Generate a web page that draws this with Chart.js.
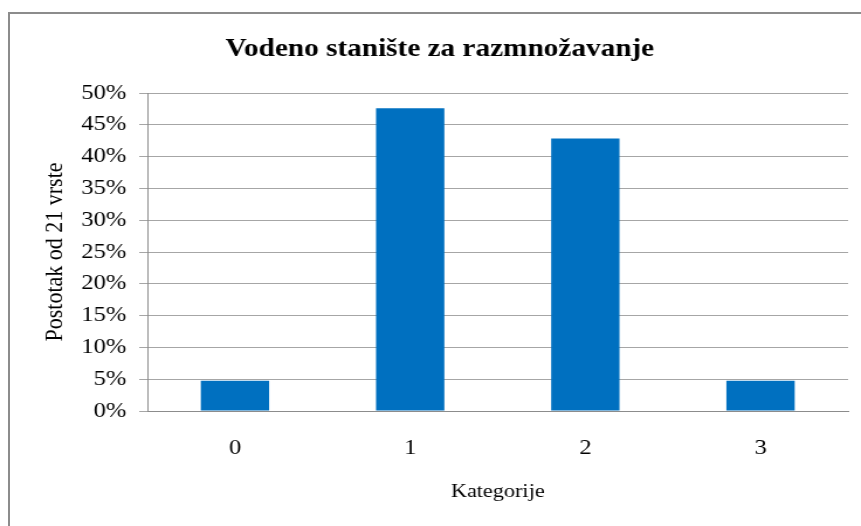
<!DOCTYPE html>
<html>
<head>
<meta charset="utf-8">
<script src="https://cdn.jsdelivr.net/npm/chart.js@4"></script>
<style>
  html, body { margin: 0; padding: 0; background: #fff; overflow: hidden; }
  #frame { position: absolute; left: 8px; top: 12px; width: 900px; height: 600px; border: 2px solid #8c8c8c; box-sizing: border-box; }
  /* the original picture has its text a little wide, so the canvas is drawn narrower and stretched */
  #chart { position: absolute; left: 0; top: 0; transform: scaleX(1.1698); transform-origin: 0 0; }
</style>
</head>
<body>
<div id="frame"></div>
<canvas id="chart" width="736" height="526"></canvas>
<script>
const categories = ['0', '1', '2', '3']
const percentValues = [4.76, 47.62, 42.86, 4.76]
const yTicks = [0, 5, 10, 15, 20, 25, 30, 35, 40, 45, 50]

const serif = '"Liberation Serif", "Times New Roman", serif'

new Chart(document.getElementById('chart'), {
  type: 'bar',
  data: {
    labels: categories,
    datasets: [{
      data: percentValues,
      backgroundColor: '#0070c0',
      categoryPercentage: 0.39,
      barPercentage: 1
    }]
  },
  options: {
    responsive: false,
    animation: false,
    devicePixelRatio: 1,
    layout: { padding: { left: 27, right: 11, top: 0, bottom: 23 } },
    plugins: {
      legend: { display: false },
      tooltip: { enabled: false },
      title: {
        display: true,
        text: 'Vodeno stanište za razmnožavanje',
        color: '#000',
        font: { family: serif, size: 25, weight: 'bold' },
        padding: { top: 35, bottom: 28 }
      }
    },
    scales: {
      x: {
        grid: { display: false },
        border: { display: true, color: '#8c8c8c', width: 1 },
        ticks: { color: '#000', font: { family: serif, size: 21 }, padding: 17 },
        title: {
          display: true,
          text: 'Kategorije',
          color: '#000',
          font: { family: serif, size: 19 },
          padding: { top: 2, bottom: 0 }
        }
      },
      y: {
        min: 0,
        max: 50,
        afterBuildTicks: (scale) => { scale.ticks = yTicks.map(v => ({ value: v })) },
        afterFit: (scale) => { scale.width = 99 },
        grid: { color: '#a6a6a6', tickLength: 7, drawTicks: true },
        border: { display: true, color: '#8c8c8c', width: 1 },
        ticks: {
          color: '#000',
          autoSkip: false,
          font: { family: serif, size: 21 },
          padding: 11,
          callback: (v) => v + '%'
        },
        title: {
          display: true,
          text: 'Postotak od 21 vrste',
          color: '#000',
          font: { family: serif, size: 22 },
          padding: { top: 7, bottom: 0 }
        }
      }
    }
  }
})
</script>
</body>
</html>
